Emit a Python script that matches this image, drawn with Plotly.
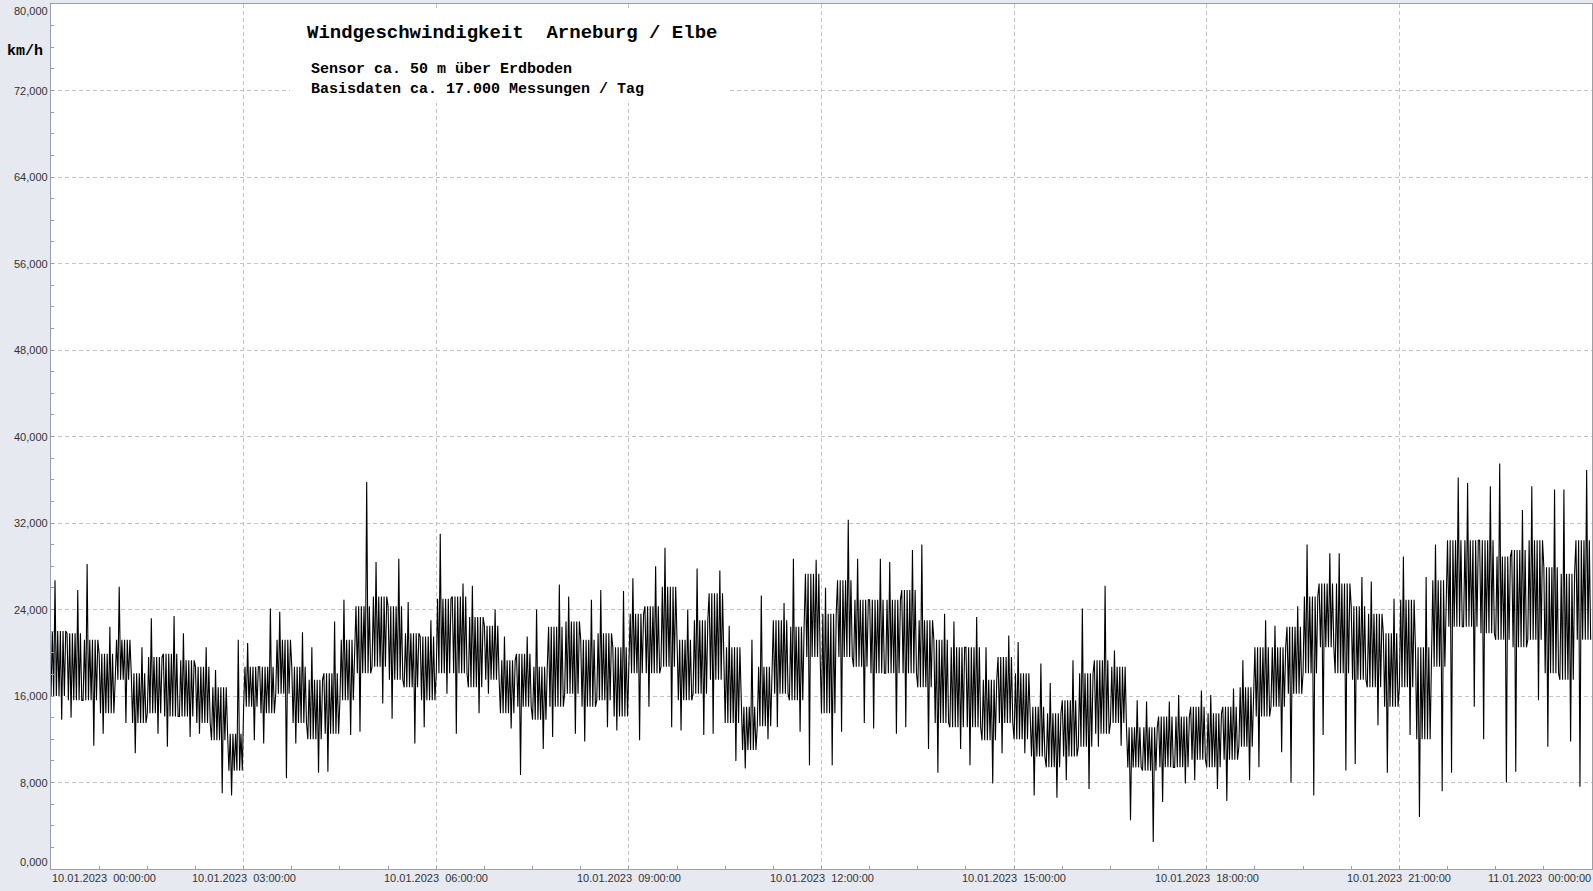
import plotly.graph_objects as go
import pandas as pd

# ---------------- data (km/h) ----------------
start = "2023-01-10 00:00:00"
interval_minutes = 15  # each entry = one 15-minute interval

# lowest value reached in each interval
vmin = [13.8, 14.0, 11.4, 12.5, 13.5, 10.7, 12.5, 11.3, 12.2, 12.5, 7.0, 6.8,
        11.9, 11.6, 8.4, 11.6, 8.9, 9.0, 12.4, 12.7, 15.3, 13.9, 11.6, 13.1,
        16.2, 12.5, 14.4, 16.2, 13.0, 8.7, 11.1, 12.2, 12.5, 11.8, 13.1, 12.8,
        11.9, 15.0, 13.1, 12.8, 12.4, 12.5, 10.0, 9.3, 12.0, 13.1, 12.7, 9.6,
        9.6, 12.7, 13.5, 13.0, 12.5, 13.1, 11.1, 8.9, 11.1, 9.6, 7.9, 10.7,
        10.7, 6.8, 6.6, 8.2, 7.4, 11.3, 11.4, 4.5, 2.5, 6.2, 7.9, 8.2,
        7.4, 6.3, 8.2, 9.4, 10.8, 8.0, 6.8, 12.4, 9.1, 9.7, 13.3, 8.9,
        12.4, 4.8, 7.2, 8.9, 15.0, 12.0, 8.0, 9.0, 15.6, 11.3, 11.8, 7.6]
# lower edge of the dense band
core_lo = [16.0, 15.6, 15.6, 14.4, 17.5, 13.5, 14.4, 14.1, 14.1, 13.5, 11.9, 9.1,
           15.0, 14.4, 16.2, 13.5, 12.0, 12.5, 15.6, 18.1, 18.7, 17.5, 16.8, 15.6,
           18.1, 18.1, 16.8, 17.5, 14.4, 15.0, 13.8, 15.0, 16.2, 15.0, 15.6, 14.1,
           18.1, 18.1, 18.7, 15.6, 16.2, 17.5, 13.5, 11.0, 13.2, 16.2, 15.6, 19.6,
           14.4, 19.6, 18.7, 18.1, 18.1, 18.1, 16.8, 13.5, 13.1, 13.1, 11.9, 13.5,
           12.0, 10.4, 9.4, 10.4, 11.3, 12.5, 13.5, 9.4, 9.1, 9.4, 9.4, 10.1,
           9.4, 10.1, 11.3, 14.1, 15.0, 16.2, 18.1, 20.5, 18.1, 17.5, 16.8, 15.0,
           16.8, 12.0, 18.7, 22.4, 22.4, 21.8, 21.2, 20.5, 21.2, 18.1, 17.5, 21.2]
# upper edge of the dense band
core_hi = [22.0, 21.8, 21.2, 19.9, 21.2, 18.1, 19.6, 19.9, 19.3, 18.7, 16.8, 12.5,
           18.7, 18.7, 21.2, 18.7, 17.5, 18.1, 21.2, 24.3, 25.2, 24.3, 21.8, 21.5,
           25.0, 25.2, 23.3, 22.5, 19.3, 19.9, 18.7, 22.4, 22.9, 21.2, 21.8, 20.5,
           23.6, 24.3, 26.1, 21.2, 23.0, 25.5, 20.5, 15.0, 18.7, 23.0, 22.4, 27.3,
           23.6, 26.7, 24.9, 24.9, 24.9, 25.8, 23.0, 21.2, 20.5, 20.5, 17.5, 19.6,
           18.1, 15.0, 14.4, 15.6, 18.1, 19.3, 18.7, 13.1, 13.1, 14.1, 14.1, 15.0,
           14.4, 15.0, 16.8, 20.5, 20.5, 22.4, 25.2, 26.4, 26.4, 24.3, 23.6, 21.8,
           24.9, 20.5, 26.7, 30.4, 30.4, 30.4, 28.9, 29.5, 30.4, 27.9, 27.3, 30.4]
# highest value reached in each interval
vmax = [26.7, 25.8, 28.2, 22.4, 26.1, 20.5, 23.2, 23.4, 21.8, 20.5, 18.4, 21.2,
        20.9, 24.1, 23.8, 21.9, 20.5, 22.9, 24.9, 35.8, 28.4, 28.7, 24.7, 23.0,
        31.0, 26.4, 26.2, 24.0, 21.5, 21.5, 24.0, 26.3, 25.2, 24.9, 25.8, 25.7,
        26.9, 28.0, 29.7, 24.0, 27.8, 27.6, 22.5, 21.2, 25.3, 24.6, 28.7, 28.6,
        26.0, 32.3, 28.7, 28.7, 28.4, 29.5, 30.0, 23.6, 22.9, 23.3, 20.5, 21.6,
        21.0, 19.0, 17.2, 19.3, 24.1, 26.2, 20.2, 15.6, 15.5, 15.5, 16.1, 16.5,
        16.1, 16.7, 19.3, 23.0, 22.5, 24.3, 30.0, 29.2, 29.2, 27.0, 26.6, 25.0,
        28.9, 27.0, 30.0, 36.2, 35.7, 35.4, 37.5, 33.2, 35.4, 35.1, 35.1, 36.9]

y_tick_values = [0, 8, 16, 24, 32, 40, 48, 56, 64, 72, 80]
y_tick_labels = ["0,000", "8,000", "16,000", "24,000", "32,000", "40,000",
                 "48,000", "56,000", "64,000", "72,000", "80,000"]
x_tick_hours = [0, 3, 6, 9, 12, 15, 18, 21, 24]
x_tick_labels = ["10.01.2023\u00a0\u00a000:00:00", "10.01.2023\u00a0\u00a003:00:00",
                 "10.01.2023\u00a0\u00a006:00:00", "10.01.2023\u00a0\u00a009:00:00",
                 "10.01.2023\u00a0\u00a012:00:00", "10.01.2023\u00a0\u00a015:00:00",
                 "10.01.2023\u00a0\u00a018:00:00", "10.01.2023\u00a0\u00a021:00:00",
                 "11.01.2023\u00a0\u00a000:00:00"]

title_text = "Windgeschwindigkeit\u00a0\u00a0Arneburg / Elbe"
sub1 = "Sensor ca. 50 m über Erdboden"
sub2 = "Basisdaten ca. 17.000 Messungen / Tag"
unit = "km/h"

# ---------------- build trace (min/max envelope drawn as a dense trace) ----------------
t0 = pd.Timestamp(start)
step = pd.Timedelta(minutes=interval_minutes)
n = len(vmax)

zx, zy = [], []
for i in range(n):
    ti = t0 + i * step
    if i % 2 == 0:
        seq = [core_lo[i], core_hi[i], core_lo[i], vmax[i], core_lo[i], core_hi[i],
               core_lo[i], core_hi[i], vmin[i], core_hi[i], core_lo[i], core_hi[i]]
    else:
        seq = [core_hi[i], core_lo[i], core_hi[i], vmin[i], core_hi[i], core_lo[i],
               core_hi[i], core_lo[i], vmax[i], core_lo[i], core_hi[i], core_lo[i]]
    sub = step / len(seq)
    for k, v in enumerate(seq):
        zx.append(ti + k * sub)
        zy.append(v)

fig = go.Figure()
fig.add_trace(go.Scatter(x=zx, y=zy, mode="lines",
                         line=dict(width=1.1, color="black"), showlegend=False))

# ---------------- layout ----------------
W, H = 1593, 891
L, R, T, B = 51, 1, 4, 22
pw, ph = W - L - R, H - T - B


def px(x):
    return (x - L) / pw


def py(y):
    return (H - B - y) / ph


grid = "#c4c4c4"
axis_col = "#9a9ea8"
font_lbl = dict(family="Liberation Sans, Arial", size=11, color="#333333")
mono = "Liberation Mono, Courier New, monospace"

x_start = t0
x_end = t0 + pd.Timedelta(hours=24)

fig.update_layout(
    width=W, height=H,
    margin=dict(l=L, r=R, t=T, b=B, pad=0),
    paper_bgcolor="#e6e9f0",
    plot_bgcolor="white",
    showlegend=False,
    xaxis=dict(
        type="date", range=[x_start, x_end],
        tick0=x_start, dtick=3 * 3600 * 1000,
        showgrid=True, gridcolor=grid, griddash="4px,3px", gridwidth=1,
        ticks="inside", ticklen=3, tickcolor=axis_col,
        minor=dict(dtick=45 * 60 * 1000, tick0=x_start, ticks="inside",
                   ticklen=3, tickcolor=axis_col, showgrid=False),
        showticklabels=False,
        showline=True, linecolor=axis_col, linewidth=1, mirror=True,
        zeroline=False,
    ),
    yaxis=dict(
        range=[0, 80], tickvals=y_tick_values,
        showgrid=True, gridcolor=grid, griddash="4px,3px", gridwidth=1,
        ticks="inside", ticklen=3, tickcolor=axis_col,
        minor=dict(dtick=2, ticks="inside", ticklen=3, tickcolor=axis_col,
                   showgrid=False),
        showticklabels=False,
        showline=True, linecolor=axis_col, linewidth=1, mirror=True,
        zeroline=False,
    ),
)

# white box behind the headline texts
fig.add_shape(type="rect", xref="paper", yref="paper",
              x0=px(290), x1=px(730), y0=py(103), y1=py(9),
              fillcolor="white", line=dict(width=0), layer="above")

ann = []
ann.append(dict(text=title_text, x=px(306), y=py(32.5), xanchor="left",
                yanchor="middle", font=dict(family=mono, size=19, color="black",
                                            weight="bold")))
ann.append(dict(text=sub1, x=px(310), y=py(69.5), xanchor="left",
                yanchor="middle", font=dict(family=mono, size=15, color="black",
                                            weight="bold")))
ann.append(dict(text=sub2, x=px(310), y=py(89.5), xanchor="left",
                yanchor="middle", font=dict(family=mono, size=15, color="black",
                                            weight="bold")))
ann.append(dict(text=unit, x=px(25.5), y=py(51.5), xanchor="center",
                yanchor="middle", font=dict(family=mono, size=15, color="black",
                                            weight="bold")))

for v, lab in zip(y_tick_values, y_tick_labels):
    if v == y_tick_values[-1]:
        ya = "top"
    elif v == y_tick_values[0]:
        ya = "bottom"
    else:
        ya = "middle"
    ann.append(dict(text=lab, xref="paper", yref="y", x=px(49), y=v,
                    xanchor="right", yanchor=ya, font=font_lbl))

for j, (hh, lab) in enumerate(zip(x_tick_hours, x_tick_labels)):
    xa = "left" if j == 0 else ("right" if j == len(x_tick_hours) - 1 else "center")
    ann.append(dict(text=lab, xref="x", yref="paper",
                    x=t0 + pd.Timedelta(hours=hh), y=py(871),
                    xanchor=xa, yanchor="top", font=font_lbl))

for a in ann:
    a.setdefault("xref", "paper")
    a.setdefault("yref", "paper")
    a["showarrow"] = False
    a["borderpad"] = 0
fig.update_layout(annotations=ann)

fig.write_html("out.html",
               config={"displayModeBar": False},
               post_script="document.body.style.margin='0px';"
                           "document.body.style.overflow='hidden';")
